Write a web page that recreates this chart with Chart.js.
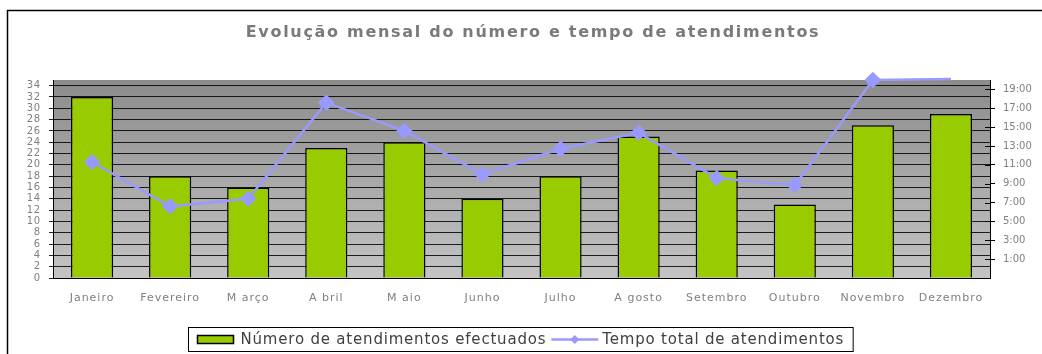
<!DOCTYPE html>
<html>
<head>
<meta charset="utf-8">
<script src="https://cdn.jsdelivr.net/npm/chart.js@4.4.1/dist/chart.umd.min.js"></script>
<style>
  html, body { margin: 0; padding: 0; background: #fff; }
  #wrap { width: 1042px; height: 354px; }
</style>
</head>
<body>
<div id="wrap"><canvas id="atendChart" width="1042" height="354"></canvas></div>
<script>
const meses = ['Janeiro', 'Fevereiro', 'M arço', 'A bril', 'M aio', 'Junho', 'Julho', 'A gosto', 'Setembro', 'Outubro', 'Novembro', 'Dezembro'];
const numAtendimentos = [32, 18, 16, 23, 24, 14, 18, 25, 19, 13, 27, 29];
// tempo total em horas
const tempoTotal = [11.3, 6.6, 7.4, 17.6, 14.6, 10.0, 12.7, 14.4, 9.6, 8.85, 20.0, 20.1];
const ticksNumero = [0, 2, 4, 6, 8, 10, 12, 14, 16, 18, 20, 22, 24, 26, 28, 30, 32, 34];
const ticksHoras = [1, 3, 5, 7, 9, 11, 13, 15, 17, 19];
const titulo = 'Evolução mensal do número e tempo de atendimentos';

const FONT = 'DejaVu Sans';
const GREY = '#808080';

// draw a scale's labels with some letter spacing
function spacedLabels(spacing) {
  return function (s) {
    if (s._spaced) return;
    s._spaced = true;
    const orig = s.drawLabels;
    s.drawLabels = function (area) {
      const ctx = this.ctx;
      ctx.save();
      ctx.letterSpacing = spacing;
      orig.call(this, area);
      ctx.restore();
    };
  };
}

// white page, outer frame, title and gradient fill behind the plot
const plotBg = {
  id: 'plotBg',
  beforeDraw(chart) {
    const { ctx, chartArea: a } = chart;
    ctx.save();
    ctx.fillStyle = '#fff';
    ctx.fillRect(0, 0, chart.width, chart.height);
    ctx.strokeStyle = '#000';
    ctx.lineWidth = 1.5;
    ctx.strokeRect(7.5, 10.5, chart.width + 20, chart.height + 20);
    const g = ctx.createLinearGradient(0, a.top, 0, a.bottom);
    g.addColorStop(0, '#8c8c8c');
    g.addColorStop(1, '#c4c4c4');
    ctx.fillStyle = g;
    ctx.fillRect(a.left, a.top, a.right - a.left, a.bottom - a.top);

    ctx.font = 'bold 16px ' + FONT;
    ctx.letterSpacing = '1.7px';
    ctx.fillStyle = '#7a7a7a';
    ctx.textAlign = 'center';
    ctx.textBaseline = 'middle';
    ctx.fillText(titulo, 533, 33);
    ctx.restore();
  },
  afterDraw(chart) {
    // right axis tick marks cross the axis line
    const { ctx, chartArea: a } = chart;
    const s = chart.scales.y1;
    ctx.save();
    ctx.strokeStyle = '#000';
    ctx.lineWidth = 1;
    s.ticks.forEach(t => {
      const y = Math.round(s.getPixelForValue(t.value)) + 0.5;
      ctx.beginPath();
      ctx.moveTo(a.right - 5, y);
      ctx.lineTo(a.right, y);
      ctx.stroke();
    });
    ctx.restore();
  }
};

// boxed legend with a bar swatch and a line+diamond swatch
const boxLegend = {
  id: 'boxLegend',
  afterDraw(chart) {
    const { ctx } = chart;
    const bar = chart.data.datasets[1];
    const line = chart.data.datasets[0];
    ctx.save();
    ctx.font = '15px ' + FONT;
    ctx.letterSpacing = '0.8px';
    ctx.textBaseline = 'middle';
    const w1 = ctx.measureText(bar.label).width;
    const w2 = ctx.measureText(line.label).width;
    const total = 9 + 36 + 7 + w1 + 5 + 47 + 4 + w2 + 9;
    const x0 = Math.round(520 - total / 2) + 0.5;
    const yTop = 327.5, h = 24, cy = yTop + h / 2;
    ctx.strokeStyle = '#000';
    ctx.lineWidth = 1;
    ctx.strokeRect(x0, yTop, total, h);
    let x = x0 + 9;
    ctx.fillStyle = bar.backgroundColor;
    ctx.fillRect(x, cy - 4, 36, 8);
    ctx.lineWidth = 1.5;
    ctx.strokeRect(x, cy - 4, 36, 8);
    x += 36 + 7;
    ctx.fillStyle = '#404040';
    ctx.fillText(bar.label, x, cy + 1);
    x += w1 + 5;
    ctx.strokeStyle = line.borderColor;
    ctx.lineWidth = 2.5;
    ctx.beginPath();
    ctx.moveTo(x, cy);
    ctx.lineTo(x + 47, cy);
    ctx.stroke();
    ctx.fillStyle = line.borderColor;
    ctx.beginPath();
    ctx.moveTo(x + 23.5, cy - 4.5);
    ctx.lineTo(x + 28, cy);
    ctx.lineTo(x + 23.5, cy + 4.5);
    ctx.lineTo(x + 19, cy);
    ctx.closePath();
    ctx.fill();
    x += 47 + 4;
    ctx.fillStyle = '#404040';
    ctx.fillText(line.label, x, cy + 1);
    ctx.restore();
  }
};

new Chart(document.getElementById('atendChart'), {
  data: {
    labels: meses,
    datasets: [
      {
        type: 'line',
        label: 'Tempo total de atendimentos',
        data: tempoTotal,
        yAxisID: 'y1',
        order: 0,
        borderColor: '#9999FF',
        backgroundColor: '#9999FF',
        borderWidth: 2.5,
        pointStyle: 'rectRot',
        pointRadius: tempoTotal.map((_, i) => (i === tempoTotal.length - 1 ? 0 : 6.5)),
        pointBackgroundColor: '#9999FF',
        pointBorderColor: '#9999FF',
        tension: 0,
        clip: false,
      },
      {
        type: 'bar',
        label: 'Número de atendimentos efectuados',
        data: numAtendimentos,
        yAxisID: 'y',
        order: 1,
        backgroundColor: '#99CC00',
        borderColor: '#000',
        borderWidth: 1.5,
        barPercentage: 0.54,
        categoryPercentage: 1,
      },
    ],
  },
  options: {
    responsive: false,
    animation: false,
    layout: { padding: { left: 7, right: 0, top: 80, bottom: 0 } },
    plugins: {
      legend: { display: false },
      tooltip: { enabled: false },
      title: { display: false },
    },
    scales: {
      x: {
        grid: { display: false },
        border: { display: true, color: '#000', width: 1 },
        ticks: { color: GREY, font: { family: FONT, size: 11 }, padding: 6, maxRotation: 0, autoSkip: false },
        afterFit(s) { s.height = 76; spacedLabels('1px')(s); },
      },
      y: {
        position: 'left',
        min: 0,
        max: 35,
        afterBuildTicks(s) { s.ticks = ticksNumero.map(v => ({ value: v })); },
        grid: { color: 'rgba(0,0,0,0.85)', lineWidth: 1, tickLength: 4 },
        border: { display: true, color: '#000', width: 1 },
        ticks: { color: GREY, font: { family: FONT, size: 10 }, padding: 8, autoSkip: false },
        afterFit(s) { s.width = 46; spacedLabels('0.8px')(s); },
      },
      y1: {
        position: 'right',
        min: -1,
        max: 20,
        afterBuildTicks(s) { s.ticks = ticksHoras.map(v => ({ value: v })); },
        grid: { drawOnChartArea: false, color: '#000', tickLength: 5 },
        border: { display: true, color: '#000', width: 1 },
        ticks: { color: GREY, font: { family: FONT, size: 10 }, padding: 8, autoSkip: false, callback: v => v + ':00' },
        afterFit(s) { s.width = 52; },
      },
    },
  },
  plugins: [plotBg, boxLegend],
});
</script>
</body>
</html>
